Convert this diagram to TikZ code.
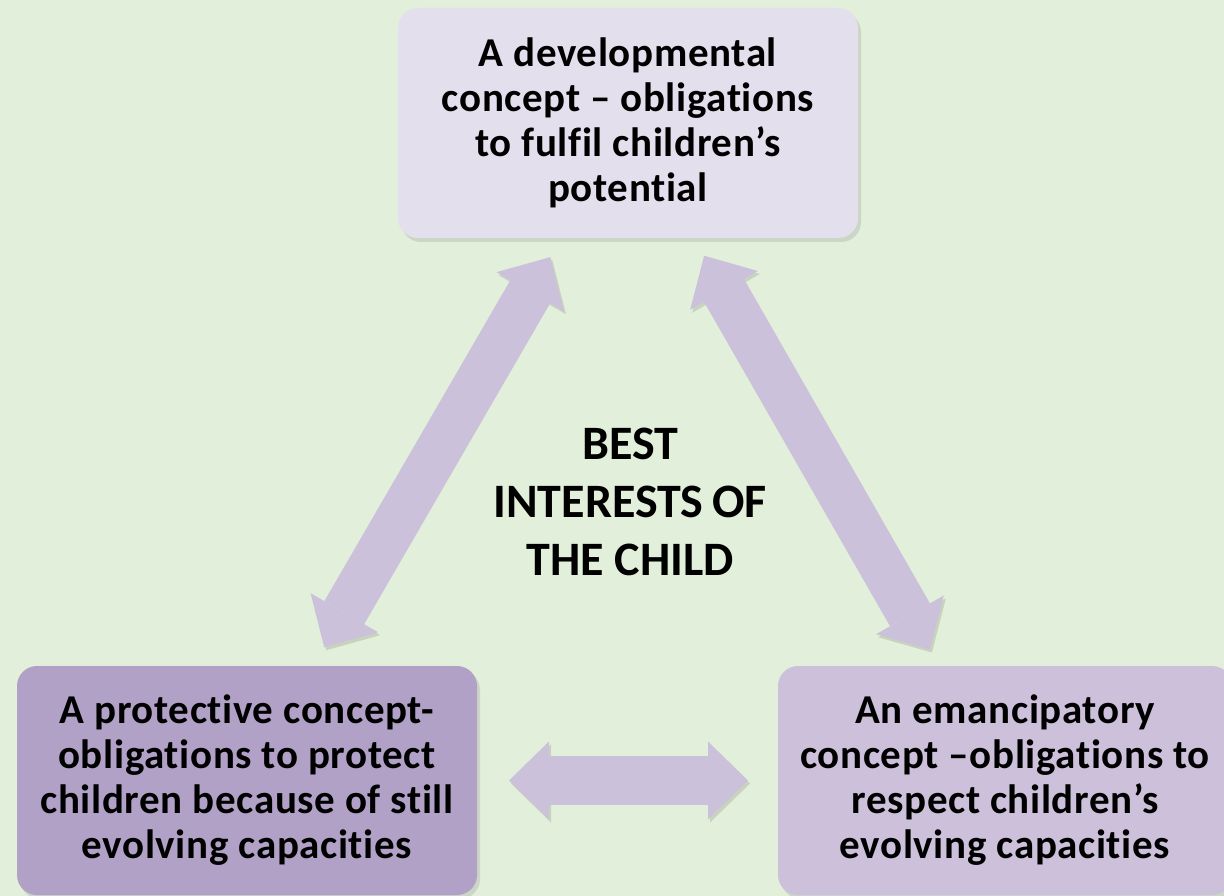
\documentclass[tikz,border=0pt]{standalone}
\usepackage{fontspec}
\setmainfont{Carlito}[Ligatures={NoCommon,NoRequired,NoContextual}]
\newfontfamily\boxfont{Carlito}[Ligatures={NoCommon,NoRequired,NoContextual},LetterSpace=1.5]
\usetikzlibrary{arrows.meta,shadows}
\definecolor{bg}{HTML}{E2EFDA}
\definecolor{topc}{HTML}{E4DFEC}
\definecolor{leftc}{HTML}{B2A1C7}
\definecolor{rightc}{HTML}{CCC0DA}
\definecolor{arrc}{HTML}{CBC1DA}
\definecolor{shc}{HTML}{C8D3BE}
\begin{document}
\begin{tikzpicture}[x=1pt,y=-1pt,
  box/.style={rounded corners=20pt, inner sep=0pt, align=center,
    font=\boxfont\fontsize{41}{45}\selectfont\bfseries,
    drop shadow={opacity=0.22, shadow xshift=3pt, shadow yshift=-4pt}},
  dblarrow/.style={draw=arrc, line width=#1,
    {Triangle[width=78pt,length=40pt,line width=0pt]}-{Triangle[width=78pt,length=40pt,line width=0pt]},
    preaction={draw=shc, transform canvas={shift={(2pt,-3pt)}}}},
  dblarrow/.default=46pt,
  center/.style={align=center, font=\fontsize{48}{58}\selectfont\bfseries}]
\fill[bg] (0,0) rectangle (1224,896);
\useasboundingbox (0,0) rectangle (1224,896);
\node[box, fill=topc, minimum width=460pt, minimum height=230pt] (dev) at (628,123)
  {A developmental\\concept – obligations\\to fulfil children’s\\potential};
\node[box, fill=leftc, minimum width=460pt, minimum height=229pt] (prot) at (247,780.5)
  {A protective concept-\\obligations to protect\\children because of still\\evolving capacities};
\node[box, fill=rightc, minimum width=454pt, minimum height=229pt] (eman) at (1005,780.5)
  {An emancipatory\\concept –obligations to\\respect children’s\\evolving capacities};
\node[center] (best) at (630,502) {BEST\\INTERESTS\hspace{0.18em}OF\\THE CHILD};
\draw[dblarrow, shorten <=154pt, shorten >=155pt] (prot.center) -- (dev.center);
\draw[dblarrow, shorten <=153pt, shorten >=151pt] (dev.center) -- (eman.center);
\draw[dblarrow=49pt, shorten <=262pt, shorten >=257pt] (prot.center) -- (eman.center);
\end{tikzpicture}
\end{document}
